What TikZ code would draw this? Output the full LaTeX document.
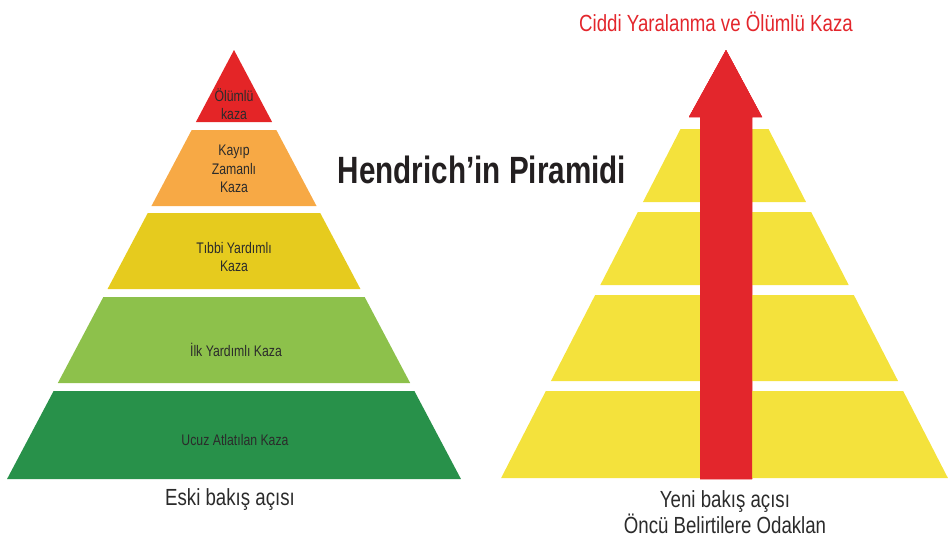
\documentclass[tikz,border=0pt]{standalone}
\usepackage{fontspec}
\setmainfont[FakeStretch=0.8]{Liberation Sans}
\newfontfamily\titlefont[FakeStretch=0.78]{Liberation Sans}
\usepackage{xcolor}
\definecolor{pyr-red}{HTML}{E42527}
\definecolor{pyr-orange}{HTML}{F7A945}
\definecolor{pyr-yellow}{HTML}{E6CB1E}
\definecolor{pyr-lightgreen}{HTML}{8DC14B}
\definecolor{pyr-darkgreen}{HTML}{28914A}
\definecolor{new-yellow}{HTML}{F4E23C}
\definecolor{arrow-red}{HTML}{E3262C}
\definecolor{label-text}{HTML}{2B2B2B}
\definecolor{title-text}{HTML}{231F20}
\tikzset{
    layer-label/.style = {align=center, text=label-text, inner sep=0pt, font=\fontsize{11.5}{14}\selectfont},
    view-caption/.style = {align=center, text=label-text, inner sep=0pt, font=\fontsize{17.5}{19}\selectfont},
    pyr-title/.style = {text=title-text, inner sep=0pt, font=\titlefont\fontsize{28.5}{31}\selectfont\bfseries},
}
% one band of a pyramid: colour, centre x, apex y, slope, top y, bottom y
\newcommand{\pyrlayer}[6]{%
    \fill[#1] ({#2-(#5-#3)*#4},#5) -- ({#2+(#5-#3)*#4},#5) -- ({#2+(#6-#3)*#4},#6) -- ({#2-(#6-#3)*#4},#6) -- cycle;}

\begin{document}
\begin{tikzpicture}[x=0.75pt, y=-0.75pt]
\useasboundingbox (0,0) rectangle (948,539);

% old view
\fill[pyr-red] (234,50) -- ({234+72*0.529},122) -- ({234-72*0.529},122) -- cycle;
\pyrlayer{pyr-orange}{234}{50}{0.529}{130}{206}
\pyrlayer{pyr-yellow}{234}{50}{0.529}{213}{289}
\pyrlayer{pyr-lightgreen}{234}{50}{0.529}{297}{383}
\pyrlayer{pyr-darkgreen}{234}{50}{0.529}{391}{479}

\node[layer-label] (fatal) at (234,104) {Ölümlü\\kaza};
\node[layer-label] (losttime) at (234,169) {Kayıp\\Zamanlı\\Kaza};
\node[layer-label] (medical) at (234,257) {Tıbbi Yardımlı\\Kaza};
\node[layer-label] (firstaid) at (236,350) {İlk Yardımlı Kaza};
\node[layer-label] (nearmiss) at (235,440) {Ucuz Atlatılan Kaza};
\node[view-caption] (oldview) at (230,500) {Eski bakış açısı};

\node[pyr-title] (title) at (482,170) {Hendrich’in Piramidi};

% new view
\foreach \yt/\yb in {129/202, 212/285, 295/381, 391/478}
    \pyrlayer{new-yellow}{724.5}{43.4}{0.514}{\yt}{\yb}
\fill[arrow-red] (700,479) -- (700,117) -- (689,117) -- (726,50) -- (762,117) -- (752,117) -- (752,479) -- cycle;

\node[view-caption, text=arrow-red] (goal) at (716,22) {Ciddi Yaralanma ve Ölümlü Kaza};
\node[view-caption] (newview) at (725,512) {Yeni bakış açısı\\Öncü Belirtilere Odaklan};
\end{tikzpicture}
\end{document}
